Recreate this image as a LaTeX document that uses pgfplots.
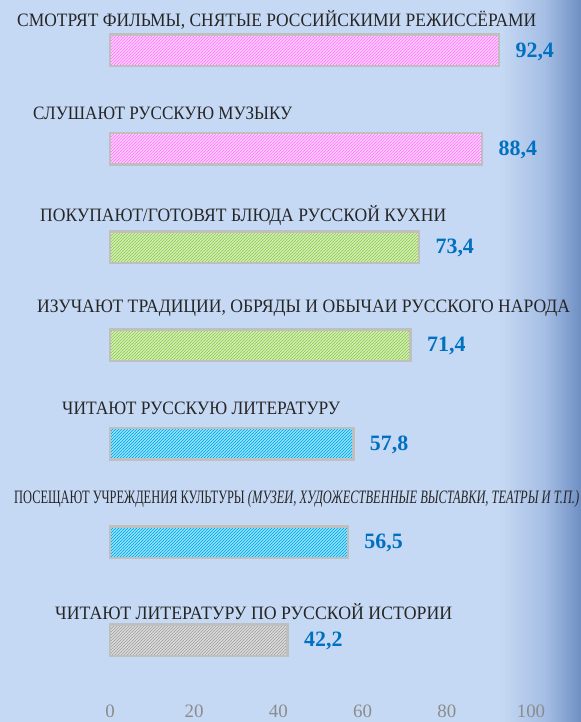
\documentclass[border=0pt]{standalone}
\usepackage{pgfplots}
\pgfplotsset{compat=1.18}
\usepackage{fontspec}
\setmainfont{Liberation Serif}
\usetikzlibrary{patterns.meta}
\usepackage{graphicx}

\definecolor{bgblue}{HTML}{C6D9F4}
\definecolor{midblue}{HTML}{A5BEE4}
\definecolor{edgeblue}{HTML}{6F8FC4}
\definecolor{pinkbar}{HTML}{FF80FF}
\definecolor{greenbar}{HTML}{92D050}
\definecolor{cyanbar}{HTML}{00B0F0}
\definecolor{graybar}{HTML}{A6A6A6}
\definecolor{barborder}{HTML}{BFBFBF}
\definecolor{valblue}{HTML}{0070C0}
\definecolor{tickgray}{HTML}{8C8C8C}
\definecolor{labeltext}{HTML}{262626}

\pgfplotstableread{
y x
1 92.4
2 88.4
}\pinkdata
\pgfplotstableread{
y x
3 73.4
4 71.4
}\greendata
\pgfplotstableread{
y x
5 57.8
6 56.5
}\cyandata
\pgfplotstableread{
y x
7 42.2
}\graydata

\tikzset{stripes/.style={draw=barborder, line width=2.5bp, preaction={fill=white},
  pattern={Lines[angle=45,distance=2.1213bp,line width=1.15bp]}, pattern color=#1}}

\begin{document}
\begin{tikzpicture}[x=1bp,y=1bp]
\useasboundingbox (0,0) rectangle (581,722);
\fill[bgblue] (0,0) rectangle (500,722);
\shade[left color=bgblue, right color=midblue] (499.8,0) rectangle (545,722);
\shade[left color=midblue, right color=edgeblue] (544.8,0) rectangle (581,722);

\begin{axis}[
  at={(110bp,22bp)}, anchor=south west,
  scale only axis, width=421bp, height=700bp,
  xmin=0, xmax=100, ymin=0.4863, ymax=7.607, y dir=reverse,
  xbar, bar width=31.5bp, bar shift=0pt,
  axis line style={draw=none}, ytick=\empty,
  xtick={0,20,...,100}, major tick length=0pt,
  xticklabel style={font=\fontsize{19}{19}\selectfont, text=tickgray, anchor=north, inner sep=0pt, yshift=-5bp},
  /pgf/number format/assume math mode=true,
  clip=false,
  nodes near coords={\pgfmathprintnumber[fixed,fixed zerofill,precision=1,use comma]{\pgfplotspointmeta}},
  point meta=x,
  nodes near coords style={font=\fontsize{22}{22}\selectfont\bfseries, text=valblue, anchor=west, xshift=12bp, yshift=-1bp},
]
\addplot[stripes=pinkbar] table[x=x,y=y] {\pinkdata};
\addplot[stripes=greenbar] table[x=x,y=y] {\greendata};
\addplot[stripes=cyanbar] table[x=x,y=y] {\cyandata};
\addplot[stripes=graybar] table[x=x,y=y] {\graydata};
\end{axis}

\begin{scope}[every node/.style={anchor=west, inner sep=0pt, text=labeltext, font=\fontsize{19}{19}\selectfont}]
\node at (17,702) {\resizebox{519bp}{\height}{СМОТРЯТ ФИЛЬМЫ, СНЯТЫЕ РОССИЙСКИМИ РЕЖИССЁРАМИ}};
\node at (33,609) {\resizebox{259bp}{\height}{СЛУШАЮТ РУССКУЮ МУЗЫКУ}};
\node at (40,507) {\resizebox{406bp}{\height}{ПОКУПАЮТ/ГОТОВЯТ БЛЮДА РУССКОЙ КУХНИ}};
\node at (37,414) {\resizebox{533bp}{\height}{ИЗУЧАЮТ ТРАДИЦИИ, ОБРЯДЫ И ОБЫЧАИ РУССКОГО НАРОДА}};
\node at (62,314) {\resizebox{278bp}{\height}{ЧИТАЮТ РУССКУЮ ЛИТЕРАТУРУ}};
\node[font=\fontsize{19}{19}\selectfont] at (14,223) {\resizebox{565bp}{\height}{ПОСЕЩАЮТ УЧРЕЖДЕНИЯ КУЛЬТУРЫ \textit{(МУЗЕИ, ХУДОЖЕСТВЕННЫЕ ВЫСТАВКИ, ТЕАТРЫ И Т.П.)}}};
\node at (55,110) {\resizebox{397bp}{\height}{ЧИТАЮТ ЛИТЕРАТУРУ ПО РУССКОЙ ИСТОРИИ}};
\end{scope}
\end{tikzpicture}
\end{document}
